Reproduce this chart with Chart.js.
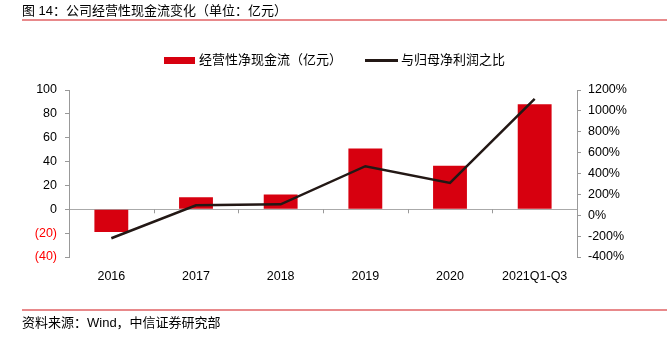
<!DOCTYPE html>
<html>
<head>
<meta charset="utf-8">
<script src="https://cdn.jsdelivr.net/npm/chart.js@4.4.0/dist/chart.umd.min.js"></script>
<style>
    html, body { margin: 0; padding: 0; background: #fff; }
    body { width: 667px; height: 339px; position: relative; overflow: hidden;
           font-family: "Liberation Sans", "Noto Sans CJK SC", sans-serif; color: #000; }
    .title { position: absolute; left: 22px; top: 3px; font-size: 13px; line-height: 16px; }
    .rule { position: absolute; left: 22px; right: 0; height: 2px; background: #e8898b; }
    .source { position: absolute; left: 22px; top: 315px; font-size: 13px; line-height: 16px; }
    .legend { position: absolute; top: 52px; font-size: 13px; line-height: 16px; }
    .swatch { position: absolute; }
    #wrap { position: absolute; left: 0; top: 0; width: 667px; height: 339px; }
</style>
</head>
<body>
<div id="wrap"><canvas id="cashChart" width="667" height="339"></canvas></div>

<div class="title">图 14：公司经营性现金流变化（单位：亿元）</div>
<div class="rule" style="top:19px"></div>

<div class="swatch" style="left:164px; top:57px; width:31px; height:7px; background:#d7000f"></div>
<div class="legend" style="left:199px">经营性净现金流（亿元）</div>
<div class="swatch" style="left:365px; top:59px; width:33px; height:3px; background:#231815"></div>
<div class="legend" style="left:401px">与归母净利润之比</div>

<div class="rule" style="top:309px"></div>
<div class="source">资料来源：Wind，中信证券研究部</div>

<script>
// =========================
// Data
// =========================
const years = ["2016", "2017", "2018", "2019", "2020", "2021Q1-Q3"];
const cashFlow = [-19, 10, 12.3, 51, 36.4, 88];          // 亿元
const ratioToProfit = [-220, 96, 105, 470, 310, 1115];   // %

const leftTicks = { min: -40, max: 100, step: 20 };
const rightTicks = { min: -400, max: 1200, step: 200 };

const tickFont = { family: "Liberation Sans", size: 12.5 };

// small tick marks on the zero line between categories
const zeroTicks = {
    id: 'zeroTicks',
    afterDatasetsDraw(chart) {
        const x = chart.scales.x, y = chart.scales.y;
        const y0 = y.getPixelForValue(0);
        const n = years.length;
        const ctx = chart.ctx;
        ctx.save();
        ctx.strokeStyle = '#999';
        ctx.lineWidth = 1;
        for (let i = 1; i < n; i++) {
            const px = Math.round(x.left + i * (x.right - x.left) / n) + 0.5;
            ctx.beginPath();
            ctx.moveTo(px, y0);
            ctx.lineTo(px, y0 + 4);
            ctx.stroke();
        }
        ctx.restore();
    }
};

new Chart(document.getElementById('cashChart').getContext('2d'), {
    type: 'bar',
    data: {
        labels: years,
        datasets: [
            {
                type: 'line',
                label: '与归母净利润之比',
                data: ratioToProfit,
                yAxisID: 'y1',
                borderColor: '#231815',
                borderWidth: 2.5,
                pointRadius: 0,
                tension: 0,
                order: 0
            },
            {
                type: 'bar',
                label: '经营性净现金流（亿元）',
                data: cashFlow,
                yAxisID: 'y',
                backgroundColor: '#d7000f',
                categoryPercentage: 1,
                barPercentage: 0.4,
                order: 1
            }
        ]
    },
    options: {
        responsive: false,
        animation: false,
        layout: { padding: { top: 90, left: 0, right: 0, bottom: 0 } },
        plugins: {
            legend: { display: false },
            tooltip: { enabled: false }
        },
        scales: {
            x: {
                grid: { display: false },
                border: { display: false },
                ticks: { color: '#000', font: tickFont, padding: 4, maxRotation: 0 },
                afterFit: s => { s.height = 82; }
            },
            y: {
                position: 'left',
                min: leftTicks.min,
                max: leftTicks.max,
                ticks: {
                    stepSize: leftTicks.step,
                    font: tickFont,
                    padding: 8,
                    color: c => c.tick.value < 0 ? '#ff0000' : '#000',
                    callback: v => v < 0 ? '(' + (-v) + ')' : v
                },
                grid: {
                    color: c => c.tick && c.tick.value === 0 ? '#aaa' : 'rgba(0,0,0,0)',
                    tickColor: '#999',
                    tickLength: 4
                },
                border: { color: '#999' },
                afterFit: s => { s.width = 69; }
            },
            y1: {
                position: 'right',
                min: rightTicks.min,
                max: rightTicks.max,
                ticks: {
                    stepSize: rightTicks.step,
                    font: tickFont,
                    color: '#000',
                    padding: 7,
                    callback: v => v + '%'
                },
                grid: { drawOnChartArea: false, tickColor: '#999', tickLength: 4 },
                border: { color: '#999' },
                afterFit: s => { s.width = 90; }
            }
        }
    },
    plugins: [zeroTicks]
});
</script>
</body>
</html>
